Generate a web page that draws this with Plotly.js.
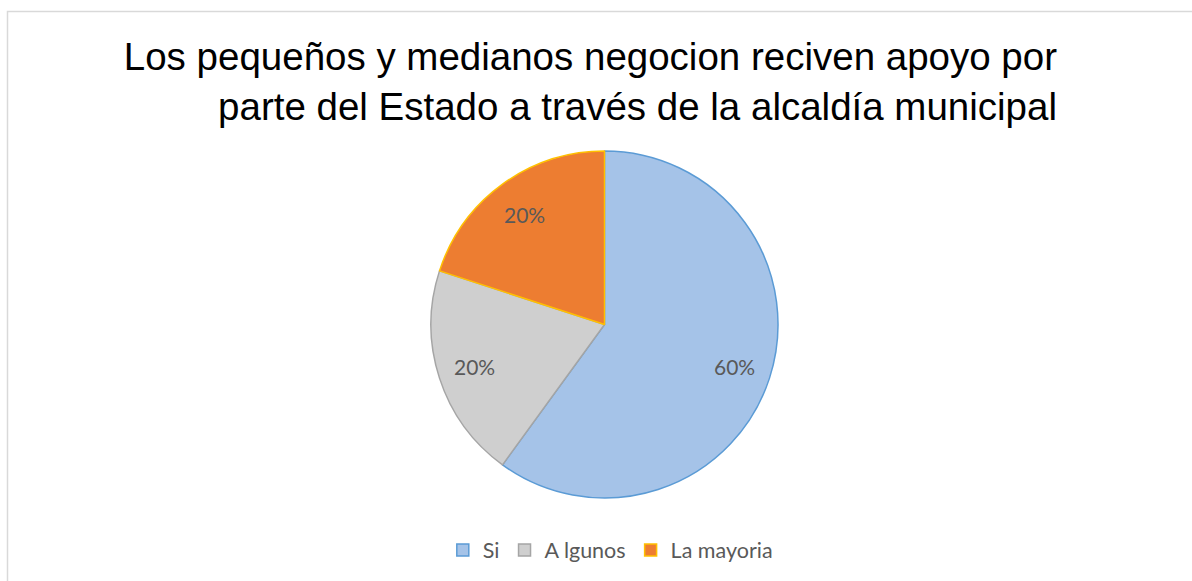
<!DOCTYPE html>
<html>
<head>
<meta charset="utf-8">
<script src="https://cdn.plot.ly/plotly-3.0.1.min.js"></script>
<style>html,body{margin:0;padding:0;background:#fff;}#chart{width:1192px;height:581px;}</style>
</head>
<body>
<div id="chart"></div>
<script>
const categories = ["Si", "A lgunos", "La mayoria"];
const values = [60, 20, 20];
const sliceColors = ["#a5c3e8", "#cfcfcf", "#ed7d31"];
const lineColors = ["#5b9bd5", "#a5a5a5", "#ffc000"];
const titleText = "Los pequeños y medianos negocion reciven apoyo por<br>parte del Estado a través de la alcaldía municipal";

const W = 1192, H = 581;
const cx = 604.5, cy = 324.5, R = 173.5;
const labelFont = {family: "Lato, 'Open Sans', sans-serif", size: 21, color: "#595959"};

// percentage labels positioned at slice mid-angles (clockwise from 12 o'clock)
const total = values.reduce((a, b) => a + b, 0);
let cum = 0;
const annotations = values.map((v) => {
  const mid = (cum + v / 2) / total * 2 * Math.PI;
  cum += v;
  const px = cx + 0.785 * R * Math.sin(mid);
  const py = cy - 0.785 * R * Math.cos(mid);
  return {
    text: Math.round(v / total * 100) + "%",
    x: px / W, y: 1 - py / H, xref: "paper", yref: "paper",
    xanchor: "center", yanchor: "middle", showarrow: false, font: labelFont
  };
});

const trace = {
  type: "pie",
  labels: categories,
  values: values,
  sort: false,
  direction: "clockwise",
  rotation: 0,
  marker: {colors: sliceColors, line: {color: lineColors, width: 1.5}},
  textinfo: "none",
  domain: {x: [(cx - R) / W, (cx + R) / W], y: [1 - (cy + R) / H, 1 - (cy - R) / H]},
  hoverinfo: "label+percent"
};
const layout = {
  width: W, height: H,
  margin: {l: 0, r: 0, t: 0, b: 0},
  paper_bgcolor: "#ffffff",
  title: {
    text: titleText,
    font: {family: "'Liberation Sans', Arial, sans-serif", size: 38.5, color: "#000000"},
    x: 1057/W, xref: "paper", xanchor: "right",
    y: 1 - 70/H, yref: "container", yanchor: "top"
  },
  annotations: annotations,
  showlegend: true,
  legend: {
    orientation: "h",
    x: 0.512, xanchor: "center",
    y: 1 - 550/H, yanchor: "middle",
    font: {family: "Lato, 'Open Sans', sans-serif", size: 21.5, color: "#595959"},
    itemwidth: 30,
    traceorder: "normal"
  },
  shapes: [{
    type: "rect", xref: "paper", yref: "paper",
    x0: 7.5/W, x1: 1.02, y0: -0.02, y1: 1 - 11.5/H,
    line: {color: "#d9d9d9", width: 1.5}, fillcolor: "rgba(0,0,0,0)", layer: "below"
  }]
};
Plotly.newPlot("chart", [trace], layout, {displayModeBar: false, staticPlot: true});
</script>
</body>
</html>
